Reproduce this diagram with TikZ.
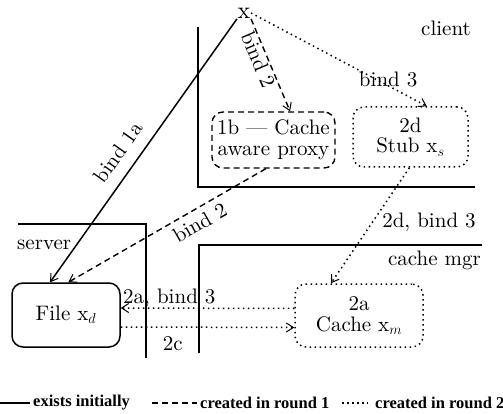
\documentclass[tikz,border=0pt]{standalone}
\usepackage{fontspec}
\setmainfont{lmroman10}[Extension=.otf, UprightFont=*-regular, BoldFont=*-bold, ItalicFont=*-italic]
\newfontfamily\legfont{Liberation Serif}
\usetikzlibrary{arrows.meta}
\tikzset{
  mainfont/.style={font=\fontsize{21}{20.5}\selectfont},
  legtext/.style={font=\legfont\bfseries\fontsize{16.5}{18}\selectfont, anchor=west, inner sep=0pt},
  region/.style={line width=1.8pt},
  solidln/.style={line width=1.5pt},
  round1/.style={line width=1.4pt, dash pattern=on 6pt off 4pt},
  round2/.style={line width=1.5pt, dash pattern=on 1.5pt off 3.5pt},
  tipped/.style={-{Straight Barb[length=7pt,width=9pt,line width=1pt]}},
  nodebox/.style={rounded corners=11pt, align=center, inner sep=0pt, mainfont},
  lbl/.style={mainfont, inner sep=1pt}
}
\begin{document}
\begin{tikzpicture}[x=1pt,y=-1pt]
\useasboundingbox (0,0) rectangle (503,414);

% regions
\draw[region] (198,27) -- (198,187) -- (475,187);
\draw[region] (18,224) -- (146,224) -- (146,358);
\draw[region] (199,353) -- (199,245) -- (482,245);
\node[lbl, anchor=east] (client) at (472,28) {client};
\node[lbl, anchor=west] (server) at (16,245) {server};
\node[lbl, anchor=east] (cachemgr) at (482,260) {cache mgr};

% nodes
\node[lbl, font=\fontsize{24}{24}\selectfont, inner sep=0.5pt] (x) at (244,13) {x};
\node[nodebox, draw, round1, minimum width=123pt, minimum height=56pt] (proxy) at (273.5,140) {1b --- Cache\\aware proxy};
\node[nodebox, draw, round2, minimum width=115pt, minimum height=60pt] (stub) at (410.5,137) {2d\\Stub x$_s$};
\node[nodebox, draw, solidln, minimum width=108pt, minimum height=64pt] (file) at (66,315) {File x$_d$};
\node[nodebox, draw, round2, minimum width=128pt, minimum height=63pt] (cache) at (359,315.5) {2a\\Cache x$_m$};

% connectors
\draw[solidln, tipped] (x.south west) -- (file.116)
  node[lbl, pos=0.55, sloped, above=11pt] {bind 1a};
\draw[round1, tipped] (x.south east) -- (proxy.60)
  node[lbl, pos=0.4, sloped, below=0pt] {bind 2};
\draw[round2, tipped] (x.east) -- (stub.62)
  node[lbl, pos=0.78, above=-3pt] {bind 3};
\draw[round1, tipped] (proxy.255) -- (file.86)
  node[lbl, pos=0.37, sloped, below=5pt] {bind 2};
\draw[round2, tipped] (stub.268) -- (cache.131)
  node[lbl, pos=0.47, right=8pt] {2d, bind 3};
\draw[round2, tipped] ([yshift=7pt]cache.west) -- ([yshift=7pt]file.east)
  node[lbl, pos=0.72, above=-1pt] {2a, bind 3};
\draw[round2, tipped] ([yshift=-12pt]file.east) -- ([yshift=-12pt]cache.west)
  node[lbl, pos=0.3, below=8pt] {2c};

% legend
\coordinate (l1a) at (0,403);
\coordinate (l1b) at (30,403);
\draw[solidln] (l1a) -- (l1b);
\node[legtext] (t1) at (33,403) {exists initially};
\coordinate (l2a) at (152,403);
\coordinate (l2b) at (197,403);
\draw[round1] (l2a) -- (l2b);
\node[legtext] (t2) at (200,403) {created in round 1};
\coordinate (l3a) at (342,403);
\coordinate (l3b) at (368,403);
\draw[round2] (l3a) -- (l3b);
\node[legtext] (t3) at (375,403) {created in round 2};
\end{tikzpicture}
\end{document}
